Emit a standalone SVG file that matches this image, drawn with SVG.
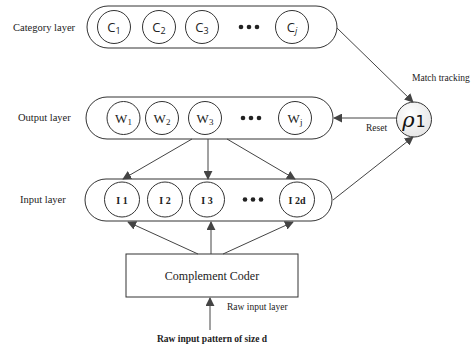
<svg xmlns="http://www.w3.org/2000/svg" width="475" height="349" viewBox="0 0 475 349">
<style>
.pill{fill:#fff;stroke:#333;stroke-width:1}
.node{fill:#fff;stroke:#333;stroke-width:1}
.lbl{font-family:"Liberation Serif",serif;font-size:10.5px;fill:#222}
.small{font-family:"Liberation Serif",serif;font-size:9.5px;fill:#222}
.cn{font-family:"Open Sans","Liberation Sans",sans-serif;font-size:13px;fill:#222;text-anchor:middle}
.wn{font-family:"Liberation Serif",serif;font-size:13px;fill:#222;text-anchor:middle}
.in{font-family:"Liberation Serif",serif;font-size:10px;font-weight:bold;fill:#222;text-anchor:middle}
.dot{fill:#222}
.edge{stroke:#444;stroke-width:1;fill:none;marker-end:url(#ah)}
</style>
<defs>
<marker id="ah" viewBox="0 0 10 10" refX="9" refY="5" markerWidth="9" markerHeight="9" markerUnits="userSpaceOnUse" orient="auto">
<path d="M0,0 L10,5 L0,10 z" fill="#444"/>
</marker>
<radialGradient id="rg" cx="0.4" cy="0.35" r="0.7">
<stop offset="0" stop-color="#ffffff"/>
<stop offset="1" stop-color="#e4e4e4"/>
</radialGradient>
</defs>

<text class="lbl" x="13" y="31">Category layer</text>
<text class="lbl" x="18" y="121">Output layer</text>
<text class="lbl" x="20" y="203">Input layer</text>

<g id="category-layer">
<rect class="pill" x="87" y="6" width="250" height="42" rx="21"/>
<circle class="node" cx="114" cy="27" r="16.5"/>
<text class="cn" x="114" y="32">C<tspan font-size="9" dy="2">1</tspan></text>
<circle class="node" cx="159" cy="27" r="16.5"/>
<text class="cn" x="159" y="32">C<tspan font-size="9" dy="2">2</tspan></text>
<circle class="node" cx="202" cy="27" r="16.5"/>
<text class="cn" x="202" y="32">C<tspan font-size="9" dy="2">3</tspan></text>
<circle class="dot" cx="241" cy="27" r="2.3"/>
<circle class="dot" cx="249" cy="27" r="2.3"/>
<circle class="dot" cx="257" cy="27" r="2.3"/>
<circle class="node" cx="292" cy="27" r="16.5"/>
<text class="cn" x="292" y="32">C<tspan font-size="9" dy="2" font-style="italic">j</tspan></text>
</g>

<g id="output-layer">
<rect class="pill" x="86" y="97" width="247" height="42" rx="21"/>
<circle class="node" cx="123.5" cy="118" r="16.5"/>
<text class="wn" x="123.5" y="123">W<tspan font-size="9" dy="2">1</tspan></text>
<circle class="node" cx="162" cy="118" r="16.5"/>
<text class="wn" x="162" y="123">W<tspan font-size="9" dy="2">2</tspan></text>
<circle class="node" cx="205" cy="118" r="16.5"/>
<text class="wn" x="205" y="123">W<tspan font-size="9" dy="2">3</tspan></text>
<circle class="dot" cx="243" cy="118" r="2.3"/>
<circle class="dot" cx="251" cy="118" r="2.3"/>
<circle class="dot" cx="259" cy="118" r="2.3"/>
<circle class="node" cx="295" cy="118" r="16.5"/>
<text class="wn" x="295" y="123">W<tspan font-size="9" dy="2">j</tspan></text>
</g>

<g id="input-layer">
<rect class="pill" x="85" y="179" width="247" height="42" rx="21"/>
<circle class="node" cx="122" cy="199.5" r="17.5"/>
<text class="in" x="122" y="203.5">I 1</text>
<circle class="node" cx="165" cy="199.5" r="17.5"/>
<text class="in" x="165" y="203.5">I 2</text>
<circle class="node" cx="207" cy="199.5" r="17.5"/>
<text class="in" x="207" y="203.5">I 3</text>
<circle class="dot" cx="245" cy="199.5" r="2.3"/>
<circle class="dot" cx="253" cy="199.5" r="2.3"/>
<circle class="dot" cx="261" cy="199.5" r="2.3"/>
<circle class="node" cx="297" cy="199.5" r="17.5"/>
<text class="in" x="297" y="203.5">I 2d</text>
</g>

<g id="rho">
<circle cx="414" cy="119.5" r="17.5" fill="url(#rg)" stroke="#333" stroke-width="1"/>
<text x="414" y="127" font-family="'DejaVu Serif',serif" font-size="21" fill="#111" text-anchor="middle"><tspan font-style="italic">ρ</tspan><tspan font-family="'DejaVu Sans',sans-serif" font-size="16" dx="1">1</tspan></text>
</g>

<g id="complement-coder">
<rect class="node" x="126" y="254" width="172" height="43"/>
<text x="212" y="280" font-family="'Liberation Serif',serif" font-size="12" fill="#222" text-anchor="middle">Complement Coder</text>
</g>

<g id="connectors">
<line class="edge" x1="192" y1="139" x2="123" y2="179"/>
<line class="edge" x1="208" y1="139" x2="208" y2="179"/>
<line class="edge" x1="227" y1="139" x2="295" y2="179"/>
<line class="edge" x1="198" y1="254" x2="128" y2="222"/>
<line class="edge" x1="211" y1="254" x2="211" y2="222"/>
<line class="edge" x1="223" y1="254" x2="293" y2="222"/>
<line class="edge" x1="210" y1="330" x2="210" y2="298"/>
<line class="edge" x1="337" y1="28" x2="413" y2="102"/>
<line class="edge" x1="396.5" y1="118" x2="334" y2="118"/>
<line class="edge" x1="333" y1="200" x2="413" y2="137"/>
</g>

<text class="small" x="412" y="81">Match tracking</text>
<text class="small" x="366" y="131">Reset</text>
<text class="small" x="227" y="310">Raw input layer</text>
<text x="212" y="342" font-family="'Liberation Serif',serif" font-size="9.5" font-weight="bold" fill="#222" text-anchor="middle">Raw input pattern of size d</text>
</svg>
